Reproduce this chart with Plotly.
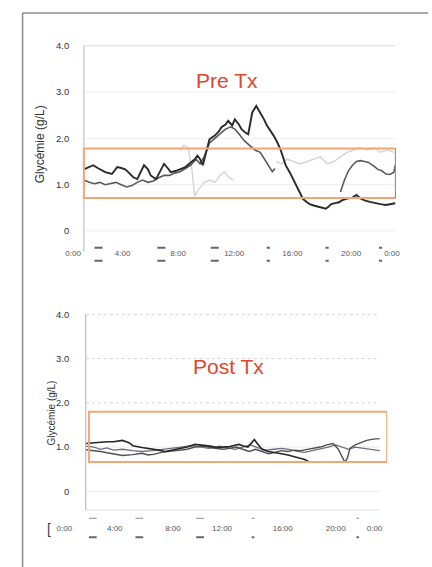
import plotly.graph_objects as go

W, H = 432, 567

# ---------------- data (hours of day, glycaemia g/L) ----------------
TICK_LABELS = ["0:00", "4:00", "8:00", "12:00", "16:00", "20:00", "0:00"]
Y_TICKS = [0, 1, 2, 3, 4]
Y_TICK_TEXT = ["0", "1.0", "2.0", "3.0", "4.0"]

# Pre Tx
pre_a_h = [0.8, 1.2, 1.5, 1.9, 2.4, 2.9, 3.3, 3.6, 3.9, 4.2, 4.5, 4.8, 5.0, 5.3, 5.6, 5.8, 6.2, 6.5, 6.8, 7.1,
           7.3, 7.7, 8.0, 8.4, 8.8, 9.1, 9.3, 9.5, 9.7, 9.9, 10.2, 10.6, 10.9, 11.1, 11.4, 11.6, 11.9, 12.1, 12.4,
           12.6, 12.9, 13.1, 13.4, 13.7, 14.0, 14.3, 14.5, 14.8, 15.0, 15.3, 15.5, 15.7, 15.9, 16.2, 16.5, 16.7,
           17.0, 17.2, 17.5, 17.7, 18.0, 18.4, 18.7, 18.9, 19.1, 19.3, 19.6, 19.9, 20.1, 20.5, 20.9, 21.2, 21.5,
           21.8, 22.2, 22.6, 23.0, 23.4, 23.8, 24.1]
pre_a_v = [1.33, 1.38, 1.42, 1.35, 1.27, 1.23, 1.38, 1.36, 1.33, 1.25, 1.16, 1.12, 1.25, 1.42, 1.33, 1.2, 1.12,
           1.3, 1.45, 1.35, 1.27, 1.3, 1.33, 1.38, 1.48, 1.55, 1.63, 1.55, 1.42, 1.65, 1.98, 2.06, 2.15, 2.24,
           2.3, 2.38, 2.28, 2.41, 2.3, 2.2, 2.12, 2.09, 2.56, 2.7, 2.56, 2.4, 2.28, 2.15, 2.06, 1.9, 1.77, 1.6,
           1.42, 1.27, 1.1, 0.98, 0.82, 0.69, 0.62, 0.58, 0.55, 0.52, 0.5, 0.48, 0.52, 0.58, 0.6, 0.62, 0.66,
           0.7, 0.72, 0.78, 0.7, 0.66, 0.63, 0.6, 0.58, 0.56, 0.58, 0.6]

pre_b_h = [0.8, 1.2, 1.6, 2.0, 2.4, 2.8, 3.2, 3.6, 4.0, 4.4, 4.8, 5.2, 5.6, 6.0, 6.4, 6.8, 7.2, 7.6, 8.0, 8.4,
           8.8, 9.2, 9.5, 9.8, 10.2, 10.6, 11.0, 11.4, 11.8, 12.1, 12.4, 12.8, 13.2, 13.6, 14.0, 14.3, 14.6,
           14.9, 15.1, 17.5, 20.0, 20.3, 20.6, 20.9, 21.2, 21.5, 21.8, 22.1, 22.5, 22.8, 23.1, 23.4, 23.7,
           24.0, 24.1]
pre_b_v = [1.1, 1.05, 1.02, 1.05, 1.0, 1.02, 1.05, 1.0, 0.95, 0.98, 1.05, 1.1, 1.05, 1.08, 1.15, 1.2, 1.2,
           1.25, 1.28, 1.35, 1.42, 1.55, 1.45, 1.6, 1.9, 2.0, 2.1, 2.2, 2.25, 2.2, 2.1, 1.95, 1.85, 1.75, 1.7,
           1.55, 1.4, 1.28, 1.35, None, 0.84, 1.1, 1.3, 1.42, 1.5, 1.52, 1.5, 1.48, 1.4, 1.33, 1.3, 1.23,
           1.22, 1.27, 1.42]

pre_c_h = [8.0, 8.3, 8.6, 8.9, 9.1, 9.4, 9.8, 10.2, 10.6, 11.0, 11.3, 11.7, 12.0, 13.5, 15.2, 15.6, 16.0,
           16.5, 17.0, 17.5, 18.0, 18.5, 19.0, 19.5, 20.0, 20.5, 21.0, 21.5, 22.0, 22.5, 23.0, 23.5, 24.0]
pre_c_v = [1.75, 1.85, 1.8, 1.3, 0.75, 0.9, 1.05, 1.1, 1.05, 1.2, 1.28, 1.15, 1.1, None, 1.5, 1.45, 1.55,
           1.5, 1.45, 1.5, 1.55, 1.6, 1.45, 1.5, 1.6, 1.7, 1.75, 1.8, 1.75, 1.8, 1.7, 1.75, 1.7]

# Post Tx
post_d_h = [1.65, 2.3, 2.8, 3.3, 3.8, 4.5, 5.0, 5.3, 6.0, 6.8, 7.3, 7.8, 8.3, 8.8, 9.5, 10.1, 10.5, 10.8,
            11.3, 11.8, 12.3, 12.8, 13.2, 13.5, 13.8, 14.2, 14.5, 14.7, 15.0, 15.3, 15.8, 16.3, 16.8, 17.3,
            17.8, 18.2, 18.6, 19.0]
post_d_v = [1.08, 1.1, 1.1, 1.12, 1.12, 1.15, 1.1, 1.03, 0.99, 0.96, 0.93, 0.9, 0.93, 0.95, 1.0, 1.06, 1.05,
            1.03, 1.02, 0.99, 1.0, 1.01, 1.04, 1.06, 1.03, 1.0, 1.1, 1.17, 1.05, 0.95, 0.9, 0.88, 0.85, 0.82,
            0.78, 0.75, 0.72, 0.66]

post_e_h = [1.65, 2.3, 2.8, 3.3, 3.8, 4.5, 5.3, 6.0, 6.5, 7.0, 7.5, 8.0, 8.8, 9.5, 10.1, 10.8, 11.5, 12.3,
            12.8, 13.3, 13.8, 14.3, 14.8, 15.3, 15.8, 16.3, 16.8, 17.3, 17.8, 18.3, 18.8, 19.3, 19.8, 20.3,
            20.8, 21.2, 21.5, 21.7, 21.9, 22.1, 22.5, 22.9, 23.4, 23.9, 24.4]
post_e_v = [0.94, 0.92, 0.9, 0.87, 0.85, 0.81, 0.83, 0.86, 0.82, 0.84, 0.88, 0.9, 0.92, 0.95, 1.0, 1.02, 0.98,
            0.95, 0.97, 1.0, 0.95, 0.9, 0.95, 0.9, 0.85, 0.88, 0.92, 0.9, 0.93, 0.92, 0.95, 0.98, 1.0, 1.05,
            1.08, 0.95, 0.78, 0.66, 0.75, 0.97, 1.05, 1.1, 1.15, 1.18, 1.19]

post_f_h = [1.65, 2.3, 2.8, 3.3, 3.8, 4.5, 5.3, 6.0, 6.8, 7.5, 8.3, 9.0, 9.8, 10.5, 11.2, 12.0, 12.6, 13.2,
            13.8, 14.4, 15.0, 15.6, 16.2, 16.8, 17.4, 18.0, 18.6, 19.2, 19.8, 20.4, 21.0, 21.5, 22.0, 22.5,
            23.0, 23.5, 24.0, 24.4]
post_f_v = [1.02, 1.0, 0.95, 0.98, 0.93, 0.95, 0.92, 0.9, 0.92, 0.95, 0.97, 1.0, 1.03, 1.0, 0.97, 1.02, 0.98,
            0.95, 1.0, 1.05, 0.98, 0.93, 0.95, 0.97, 0.95, 0.9, 0.88, 0.92, 0.95, 1.0, 1.05, 1.0, 0.95, 1.0,
            0.98, 0.95, 0.93, 0.92]

# target ranges
PRE_TARGET = [0.71, 1.78]
POST_TARGET = [0.66, 1.8]
PRE_TICK_POS = [0, 3.7, 7.85, 12.05, 16.4, 20.8, 23.85]
POST_TICK_POS = [0, 3.9, 8.4, 12.2, 16.9, 21.0, 24.0]
PRE_MARKS = [1.9, 6.6, 10.6, 14.6, 19.0, 23.0]
POST_MARKS = [2.2, 5.8, 10.5, 14.6, 22.7]

# ---------------- layout geometry ----------------
def px_x(p):
    return p / W

def px_y(p):
    return 1 - p / H

PRE_X0 = 0.8      # start of recording (axis line)
PRE_X1 = 24.15
POST_X0 = 1.65
POST_BOX_X0 = 1.9
POST_X1 = 24.98

fig = go.Figure()

def add_line(x, y, color, width, xa, ya):
    fig.add_trace(go.Scatter(x=x, y=y, mode="lines", line=dict(color=color, width=width),
                             xaxis=xa, yaxis=ya, connectgaps=False, hoverinfo="skip", showlegend=False))

add_line(pre_c_h, pre_c_v, "#d6d6d6", 1.5, "x", "y")
add_line(pre_b_h, pre_b_v, "#5a5a5a", 1.6, "x", "y")
add_line(pre_a_h, pre_a_v, "#2a2a2a", 1.9, "x", "y")

add_line(post_f_h, post_f_v, "#6c7080", 1.3, "x2", "y2")
add_line(post_e_h, post_e_v, "#505050", 1.4, "x2", "y2")
add_line(post_d_h, post_d_v, "#262626", 1.6, "x2", "y2")

FONT = "Liberation Sans, Arial, sans-serif"
tickfont = dict(family=FONT, size=8, color="#555555")
ytickfont = dict(family=FONT, size=9.5, color="#333333")

fig.update_layout(
    width=W, height=H, margin=dict(l=0, r=0, t=0, b=0),
    paper_bgcolor="white", plot_bgcolor="rgba(0,0,0,0)",
    xaxis=dict(domain=[px_x(67), px_x(399)], range=[0, PRE_X1], anchor="y",
               tickvals=PRE_TICK_POS, ticktext=TICK_LABELS, showgrid=False, zeroline=False,
               showline=False, ticks="", tickfont=tickfont, fixedrange=True),
    yaxis=dict(domain=[px_y(245), px_y(40.7)], range=[-0.34, 4.05], anchor="free", position=px_x(63),
               tickvals=Y_TICKS, ticktext=Y_TICK_TEXT, showgrid=False, zeroline=False, showline=False,
               ticks="", tickfont=ytickfont, fixedrange=True),
    xaxis2=dict(domain=[px_x(58), px_x(390)], range=[0, POST_X1], anchor="y2",
                tickvals=POST_TICK_POS, ticktext=TICK_LABELS, showgrid=False, zeroline=False,
                showline=False, ticks="", tickfont=tickfont, fixedrange=True, ticklabelstandoff=12),
    yaxis2=dict(domain=[px_y(510), px_y(310.8)], range=[-0.43, 4.05], anchor="free", position=px_x(63),
                tickvals=Y_TICKS, ticktext=Y_TICK_TEXT, showgrid=False, zeroline=False, showline=False,
                ticks="", tickfont=ytickfont, fixedrange=True),
)

shapes = []
# gridlines
for t in Y_TICKS:
    shapes.append(dict(type="line", xref="x", yref="y", x0=PRE_X0, x1=PRE_X1, y0=t, y1=t,
                       line=dict(color="#dcdcdc" if t == 4 else "#efefef", width=1), layer="below"))
    shapes.append(dict(type="line", xref="x2", yref="y2", x0=POST_X0, x1=24.4, y0=t, y1=t,
                       line=dict(color="#d6d6d6" if t > 1 else "#ececec", width=1,
                                 dash="dot" if t > 1 else "solid"), layer="below"))
# axis lines
shapes.append(dict(type="line", xref="x", yref="paper", x0=PRE_X0, x1=PRE_X0, y0=px_y(250), y1=px_y(43),
                   line=dict(color="#cfcfcf", width=1.5)))
shapes.append(dict(type="line", xref="x2", yref="y2", x0=POST_X0, x1=POST_X0, y0=-0.43, y1=4.0,
                   line=dict(color="#bdbdbd", width=1.2)))
shapes.append(dict(type="line", xref="x2", yref="y2", x0=POST_X0, x1=24.4, y0=-0.43, y1=-0.43,
                   line=dict(color="#c4c4c4", width=1.2)))
# target boxes
shapes.append(dict(type="rect", xref="x", yref="y", x0=PRE_X0, x1=PRE_X1, y0=PRE_TARGET[0], y1=PRE_TARGET[1],
                   line=dict(color="#f2a576", width=2)))
shapes.append(dict(type="line", xref="x", yref="y", x0=PRE_X1, x1=PRE_X1, y0=PRE_TARGET[0], y1=PRE_TARGET[1],
                   line=dict(color="#ec6a45", width=2)))
shapes.append(dict(type="rect", xref="x2", yref="y2", x0=POST_BOX_X0, x1=POST_X1, y0=POST_TARGET[0],
                   y1=POST_TARGET[1], line=dict(color="#f0a878", width=2)))
# tick separator marks
for i, m in enumerate(PRE_MARKS):
    w = 0.3 if i < 3 else 0.12
    shapes.append(dict(type="line", xref="x", yref="paper", x0=m - w, x1=m + w, y0=px_y(246), y1=px_y(246),
                       line=dict(color="#666666", width=2)))
    shapes.append(dict(type="line", xref="x", yref="paper", x0=m - w, x1=m + w, y0=px_y(259), y1=px_y(259),
                       line=dict(color="#666666", width=2)))
for i, m in enumerate(POST_MARKS):
    w = 0.3 if i < 3 else 0.1
    shapes.append(dict(type="line", xref="x2", yref="paper", x0=m - w, x1=m + w, y0=px_y(518), y1=px_y(518),
                       line=dict(color="#888888", width=1)))
    shapes.append(dict(type="line", xref="x2", yref="paper", x0=m - w, x1=m + w, y0=px_y(537), y1=px_y(537),
                       line=dict(color="#666666", width=2)))
# outer frame
shapes.append(dict(type="line", xref="paper", yref="paper", x0=px_x(15), x1=px_x(15), y0=0, y1=px_y(10),
                   line=dict(color="#8a8a8a", width=1.5)))
shapes.append(dict(type="line", xref="paper", yref="paper", x0=px_x(15), x1=1, y0=px_y(10), y1=px_y(10),
                   line=dict(color="#8a8a8a", width=1.5)))
fig.update_layout(shapes=shapes)


def note(text, x, y, size, color="#333333", angle=0):
    fig.add_annotation(text=text, x=px_x(x), y=px_y(y), xref="paper", yref="paper", showarrow=False,
                       xanchor="center", yanchor="middle", textangle=angle,
                       font=dict(family=FONT, size=size, color=color))


note("Pre Tx", 225, 78, 21, "#e2452a")
note("Post Tx", 227, 365, 21, "#e2452a")
note("Glycémie (g/L)", 33, 142, 12, angle=-90)
note("Glycémie (g/L)", 45, 412, 10, angle=-90)
note("[", 42, 529, 14, "#444444")

fig.write_html("out.html")
